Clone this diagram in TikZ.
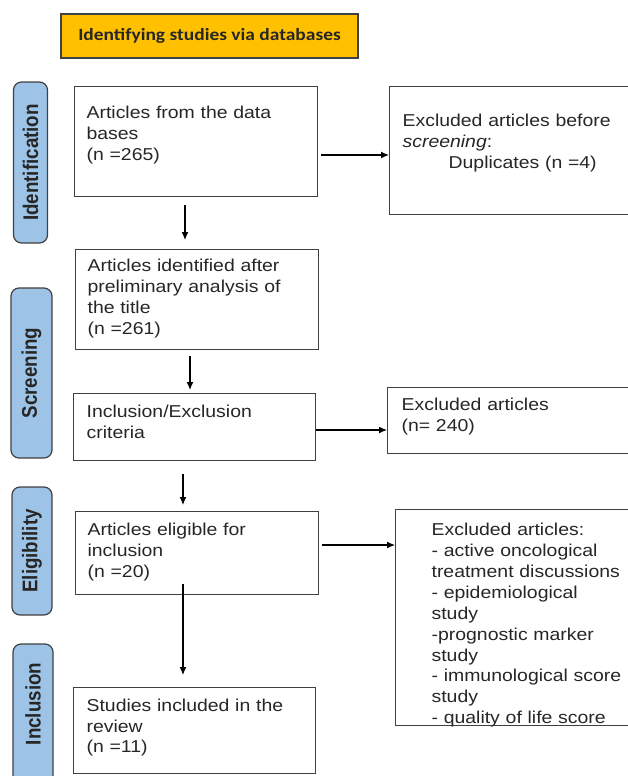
\documentclass[tikz,border=0pt]{standalone}
\usepackage{fontspec}
\usetikzlibrary{arrows.meta}
\newfontfamily\boxfont[FakeStretch=1.13]{Liberation Sans}
\newfontfamily\phasefont[FakeStretch=0.885]{Liberation Sans}
\newfontfamily\titlefont[FakeStretch=1.13]{Carlito}
\definecolor{titlefill}{HTML}{FFC000}
\definecolor{phasefill}{HTML}{9DC3E6}
\definecolor{edge}{HTML}{404040}
\definecolor{ink}{HTML}{262626}

\begin{document}
\begin{tikzpicture}[x=1pt, y=-1pt,
  box/.style={draw=edge, line width=1.2pt, anchor=north west, align=left, inner xsep=12pt, inner ysep=0pt, text=ink, font=\boxfont\fontsize{17.2}{20.9}\selectfont},
  phase/.style={draw=edge, fill=phasefill, line width=1.2pt, rounded corners=8pt, rotate=90, inner sep=0pt, text=ink, font=\phasefont\bfseries\fontsize{21.2}{24}\selectfont},
  arr/.style={-{Latex[length=8pt,width=7pt]}, line width=1.2pt}]
\useasboundingbox (0,0) rectangle (627,776);

\node[draw=edge, fill=titlefill, line width=1.2pt, minimum width=297pt, minimum height=44pt, inner sep=0pt, text=ink, font=\titlefont\bfseries\fontsize{17.2}{20}\selectfont] (title) at (209.5,36) {Identifying studies via databases};

\foreach \name/\txt/\cx/\cy/\len/\wid in {identification/Identification/30.5/162.5/161/34, screening/Screening/31.5/373/170/41, eligibility/Eligibility/32/551/128/40, inclusion/\hspace*{26pt}Inclusion/33/717/146/40} {
  \node[phase, minimum width=\len pt, minimum height=\wid pt] (\name) at (\cx,\cy) {\txt};
}

\node[box, text width=219pt, text height=32.3pt, text depth=77.7pt] (articles) at (74,86) {Articles from the data\\bases\\(n =265)};
\node[box, text width=219pt, text height=22.3pt, text depth=77.7pt] (screened) at (75,249) {Articles identified after\\preliminary analysis of\\the title\\(n =261)};
\node[box, inner xsep=13pt, text width=216pt, text height=24.3pt, text depth=42.7pt] (criteria) at (73,393) {Inclusion/Exclusion\\criteria};
\node[box, text width=219pt, text height=24pt, text depth=59pt] (eligible) at (75,511) {Articles eligible for\\inclusion\\(n =20)};
\node[box, inner xsep=13pt, text width=216pt, text height=23.5pt, text depth=62.5pt] (included) at (73,687) {Studies included in the\\review\\(n =11)};

\node[box, inner xsep=13pt, text width=240pt, text height=39.6pt, text depth=88.4pt] (dupes) at (389,86) {Excluded articles before\\\textit{screening}:\\\hspace*{46pt}Duplicates (n =4)};
\node[box, inner xsep=14pt, text width=240pt, text height=22.6pt, text depth=43.4pt] (excluded) at (387,387) {Excluded articles\\(n= 240)};
\node[box, inner xsep=36pt, text width=210pt, text height=26pt, text depth=190pt] (reasons) at (395,509) {Excluded articles:\\- active oncological\\treatment discussions\\- epidemiological\\study\\-prognostic marker\\study\\- immunological score\\study\\- quality of life score};

\draw[arr, shorten <=8pt, shorten >=9pt] (185,0 |- articles.south) -- (185,0 |- screened.north);
\draw[arr, shorten <=6pt, shorten >=3pt] (190,0 |- screened.south) -- (190,0 |- criteria.north);
\draw[arr, shorten <=13pt, shorten >=6pt] (183,0 |- criteria.south) -- (183,0 |- eligible.north);
\draw[arr, shorten <=-11pt, shorten >=12pt] (183,0 |- eligible.south) -- (183,0 |- included.north);

\draw[arr, shorten <=3pt] (articles.east |- 0,155) -- (dupes.west |- 0,155);
\draw[arr] (criteria.east |- 0,430) -- (excluded.west |- 0,430);
\draw[arr, shorten <=3pt] (eligible.east |- 0,545) -- (reasons.west |- 0,545);
\end{tikzpicture}
\end{document}
